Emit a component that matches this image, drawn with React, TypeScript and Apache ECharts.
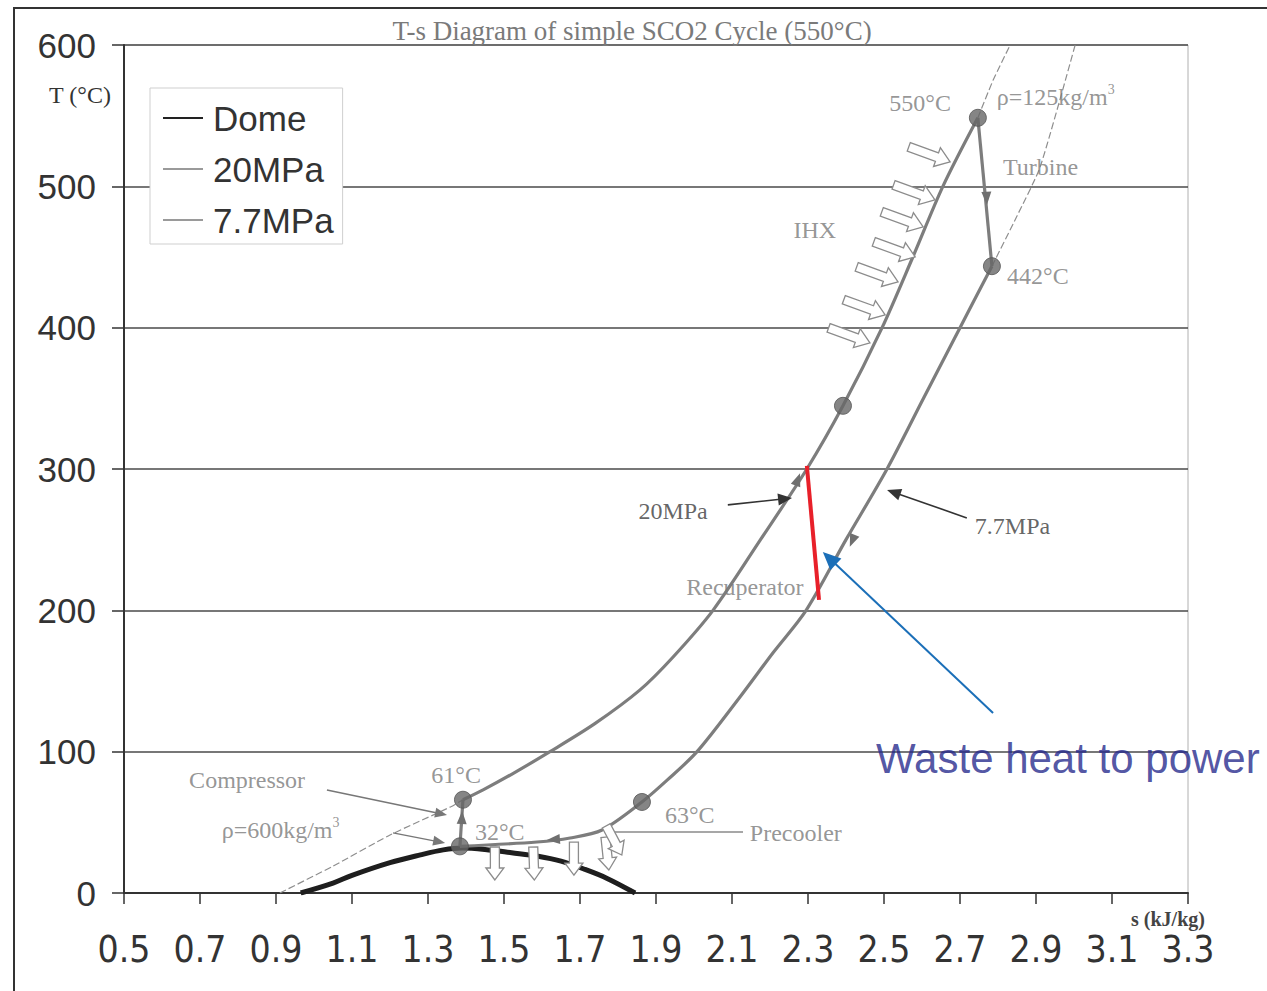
import React, { useEffect, useRef } from "react";
import * as echarts from "echarts";

// ---- data (s in kJ/kg·K, T in °C) ----
const domeData = [
  [0.965, 0], [1.05, 7], [1.1, 12.5], [1.2, 21.5], [1.28, 27], [1.34, 30.5], [1.39, 31.8],
  [1.45, 30.8], [1.52, 28.5], [1.59, 26], [1.65, 22.5], [1.71, 17], [1.77, 10.5], [1.845, 0],
];
const compression = [[1.384, 33], [1.392, 66]];
const heating20 = [
  [1.392, 66], [1.445, 73], [1.52, 84], [1.621, 100], [1.74, 120], [1.858, 143.7], [1.945, 167],
  [2.05, 200], [2.175, 250], [2.297, 300], [2.392, 344.7], [2.495, 400], [2.576, 450],
  [2.655, 500], [2.747, 548.5],
];
const turbine = [[2.747, 548.5], [2.784, 443.5]];
const cooling77 = [
  [2.784, 443.5], [2.7, 400], [2.604, 350], [2.508, 300], [2.4, 250], [2.295, 200], [2.208, 170],
  [2.121, 138.7], [2.008, 100], [1.93, 80], [1.863, 64.4], [1.758, 44.6], [1.674, 38.9],
  [1.587, 36.1], [1.384, 33],
];
const iso20Low = [[0.91, 0], [1.05, 19], [1.2, 41], [1.36, 61], [1.392, 66]];
const iso20High = [[2.747, 548.5], [2.787, 575], [2.832, 600]];
const iso77High = [[2.784, 443.5], [2.85, 479], [2.911, 513.8], [3.003, 600]];
const statePoints = [[1.384, 33], [1.392, 66], [2.392, 344.7], [2.747, 548.5], [2.784, 443.5], [1.863, 64.4]];
const recuperatorLine = [[2.297, 302.2], [2.329, 207.4]];

// hollow heat arrows: [s, T of tip, direction angle (deg, screen)]
const ihxArrows = [
  [2.674, 517.3, 20], [2.634, 490.4, 20], [2.603, 471.3, 20], [2.582, 450.1, 20],
  [2.537, 432.4, 20], [2.503, 409.1, 20], [2.463, 389.2, 20],
];
const precoolerArrows = [
  [1.476, 9.2, 90], [1.58, 9.2, 88], [1.684, 12.7, 90], [1.776, 16.3, 84], [1.81, 26.9, 62],
];
// flow direction heads on the curves: [s1, T1, s2, T2 (tip)]
const flowHeads = [
  [1.388, 45, 1.39, 58], [2.26, 283, 2.279, 297], [2.43, 258, 2.41, 244.9],
  [1.66, 38.5, 1.613, 37.5], [2.765, 520, 2.771, 487],
];
// annotation pointers: [s1, T1, s2, T2]
const grayPointers = [[1.034, 72.9, 1.35, 55.2], [1.208, 42.5, 1.345, 35.4]];
const darkPointers = [[2.089, 274.6, 2.258, 279.5], [2.718, 265.4, 2.508, 285.2]];
const precoolerLine = [[1.779, 43.2], [2.129, 43.2]];
const bluePointer = [[2.787, 127.4, 2.339, 241.3]];

// text annotations: [s, T, text, anchor]
const grayLabels: [number, number, string, string][] = [
  [2.595, 559, "550°C", "c"],
  [2.813, 513.8, "Turbine", "l"],
  [2.318, 469.2, "IHX", "c"],
  [2.824, 436.7, "442°C", "l"],
  [2.134, 216.6, "Recuperator", "c"],
  [0.824, 80, "Compressor", "c"],
  [1.374, 83.5, "61°C", "c"],
  [1.489, 43.2, "32°C", "c"],
  [1.989, 55.2, "63°C", "c"],
  [2.147, 42.5, "Precooler", "l"],
];
const densityLabels: [number, number, string, string][] = [
  [2.797, 563.3, "ρ=125kg/m", "l"],
  [0.757, 44.6, "ρ=600kg/m", "l"],
];
const darkLabels: [number, number, string, string][] = [
  [1.945, 270.3, "20MPa", "c"],
  [2.739, 259.7, "7.7MPa", "l"],
];
const blueLabels: [number, number, string, string][] = [[2.479, 95.5, "Waste heat to power", "l"]];

const title = "T-s Diagram of simple SCO2 Cycle (550°C)";

const SERIF = "'Liberation Serif', 'DejaVu Serif', serif";
const SANS = "'Liberation Sans', Arial, sans-serif";
const NARROW = "'Liberation Sans Narrow', 'DejaVu Sans Condensed', 'Liberation Sans', sans-serif";

function labelSeries(list: [number, number, string, string][], style: any, rich?: any) {
  return {
    type: "scatter",
    symbolSize: 0,
    silent: true,
    z: 20,
    data: list.map((d) => ({
      value: [d[0], d[1]],
      name: d[2],
      label: d[3] === "l" ? { position: "right", distance: 0 } : { position: "inside" },
    })),
    label: {
      show: true,
      formatter: rich ? (p: any) => `{a|${p.name}}{s|3}` : "{b}",
      ...style,
      rich,
    },
  };
}

function pointerRender(opts: { lw: number; hl: number; hw: number; line: boolean }) {
  return (params: any, api: any) => {
    const p1 = api.coord([api.value(0), api.value(1)]);
    const p2 = api.coord([api.value(2), api.value(3)]);
    const color = api.visual("color");
    const dx = p2[0] - p1[0];
    const dy = p2[1] - p1[1];
    const len = Math.sqrt(dx * dx + dy * dy) || 1;
    const ux = dx / len;
    const uy = dy / len;
    const nx = -uy;
    const ny = ux;
    const bx = p2[0] - ux * opts.hl;
    const by = p2[1] - uy * opts.hl;
    const children: any[] = [];
    if (opts.line) {
      children.push({
        type: "line",
        shape: { x1: p1[0], y1: p1[1], x2: bx + ux * 2, y2: by + uy * 2 },
        style: { stroke: color, lineWidth: opts.lw },
      });
    }
    children.push({
      type: "polygon",
      shape: {
        points: [
          [p2[0], p2[1]],
          [bx + nx * opts.hw, by + ny * opts.hw],
          [bx - nx * opts.hw, by - ny * opts.hw],
        ],
      },
      style: { fill: color },
    });
    return { type: "group", children };
  };
}

function hollowArrowRender(L: number, shaft: number, headW: number, headL: number) {
  return (params: any, api: any) => {
    const tip = api.coord([api.value(0), api.value(1)]);
    const a = (api.value(2) * Math.PI) / 180;
    const c = Math.cos(a);
    const s = Math.sin(a);
    const local = [
      [0, 0], [-headL, headW / 2], [-headL, shaft / 2], [-L, shaft / 2],
      [-L, -shaft / 2], [-headL, -shaft / 2], [-headL, -headW / 2],
    ];
    const pts = local.map(([x, y]) => [tip[0] + x * c - y * s, tip[1] + x * s + y * c]);
    return {
      type: "polygon",
      shape: { points: pts },
      style: { fill: "#ffffff", stroke: "#8c8c8c", lineWidth: 1.3 },
    };
  };
}

export default function App() {
  const ref = useRef<HTMLDivElement>(null);
  useEffect(() => {
    if (!ref.current) return;
    const chart = echarts.init(ref.current, undefined, { renderer: "svg" });
    const cycleStyle = { color: "#7d7d7d", width: 3.2 };
    const thinStyle = { color: "#8e8e8e", width: 1.2, type: [7, 3] as any };
    chart.setOption({
      animation: false,
      backgroundColor: "#ffffff",
      title: {
        text: title,
        left: 627,
        textAlign: "center",
        top: 12,
        textStyle: { fontFamily: SERIF, fontSize: 27, fontWeight: "normal", color: "#7a7a7a" },
      },
      grid: {
        left: 124, right: 79, top: 45, bottom: 98,
        show: true, borderColor: "#b0b0b0", borderWidth: 1, backgroundColor: "transparent",
      },
      legend: {
        data: [
          { name: "Dome", icon: "rect", itemStyle: { color: "#222" } },
          { name: "20MPa", icon: "rect", itemStyle: { color: "#9a9a9a" } },
          { name: "7.7MPa", icon: "rect", itemStyle: { color: "#9a9a9a" } },
        ],
        orient: "vertical",
        left: 150,
        top: 88,
        itemWidth: 40,
        itemHeight: 2,
        itemGap: 15,
        padding: [12, 9, 6, 13],
        borderColor: "#cfcfcf",
        borderWidth: 1,
        backgroundColor: "#ffffff",
        selectedMode: false,
        textStyle: { fontFamily: SANS, fontSize: 35, color: "#333", lineHeight: 36, padding: [0, 0, 0, 5] },
      },
      xAxis: {
        type: "value",
        min: 0.5,
        max: 3.3,
        interval: 0.2,
        axisLine: { show: true, onZero: false, lineStyle: { color: "#333", width: 2 } },
        axisTick: { show: true, length: 11, lineStyle: { color: "#333", width: 1.5 } },
        axisLabel: {
          margin: 38,
          fontFamily: NARROW,
          fontSize: 37,
          color: "#333",
          formatter: (v: number) => v.toFixed(1),
        },
        splitLine: { show: false },
      },
      yAxis: {
        type: "value",
        min: 0,
        max: 600,
        interval: 100,
        axisLine: { show: true, lineStyle: { color: "#333", width: 2 } },
        axisTick: { show: true, length: 12, lineStyle: { color: "#333", width: 1.5 } },
        axisLabel: { margin: 28, fontFamily: SANS, fontSize: 35, color: "#333" },
        splitLine: { show: true, lineStyle: { color: "#4a4a4a", width: 1.6 } },
      },
      graphic: [
        {
          type: "rect",
          shape: { x: 14, y: 8, width: 1270, height: 1000 },
          style: { fill: "none", stroke: "#333", lineWidth: 2 },
          silent: true,
          z: -10,
        },
        {
          type: "text",
          x: 80,
          y: 95,
          style: { text: "T (°C)", fontFamily: SERIF, fontSize: 24, fill: "#333", align: "center", verticalAlign: "middle" },
        },
        {
          type: "text",
          x: 1168,
          y: 919,
          style: {
            text: "s (kJ/kg)", fontFamily: SERIF, fontSize: 20, fontWeight: "bold", fill: "#444",
            align: "center", verticalAlign: "middle",
          },
        },
      ],
      series: [
        { name: "Dome", type: "line", data: domeData, smooth: 0.35, symbol: "none", lineStyle: { color: "#1e1e1e", width: 5 }, z: 5 },
        { name: "20MPa", type: "line", data: iso20Low, smooth: 0.2, symbol: "none", lineStyle: thinStyle, z: 4 },
        { name: "20MPa", type: "line", data: iso20High, smooth: 0.2, symbol: "none", lineStyle: thinStyle, z: 4 },
        { name: "20MPa", type: "line", data: heating20, smooth: 0.3, symbol: "none", lineStyle: cycleStyle, z: 6 },
        { name: "7.7MPa", type: "line", data: iso77High, smooth: 0.2, symbol: "none", lineStyle: thinStyle, z: 4 },
        { name: "7.7MPa", type: "line", data: cooling77, smooth: 0.3, symbol: "none", lineStyle: cycleStyle, z: 6 },
        { name: "compression", type: "line", data: compression, symbol: "none", lineStyle: cycleStyle, z: 6 },
        { name: "turbine", type: "line", data: turbine, symbol: "none", lineStyle: cycleStyle, z: 6 },
        { name: "recuperator", type: "line", data: recuperatorLine, symbol: "none", lineStyle: { color: "#e8202a", width: 4 }, z: 12 },
        { name: "precoolerLine", type: "line", data: precoolerLine, symbol: "none", lineStyle: { color: "#8a8a8a", width: 1.4 }, z: 7 },
        {
          name: "states", type: "scatter", data: statePoints, symbolSize: 17,
          itemStyle: { color: "#676767", borderColor: "#555", borderWidth: 1 }, z: 10,
        },
        {
          name: "ihx", type: "custom", data: ihxArrows, renderItem: hollowArrowRender(44, 9, 20, 14), z: 8,
          encode: { x: 0, y: 1 },
        },
        {
          name: "precooler", type: "custom", data: precoolerArrows, renderItem: hollowArrowRender(33, 9, 18, 12), z: 8,
          encode: { x: 0, y: 1 },
        },
        {
          name: "heads", type: "custom", data: flowHeads, itemStyle: { color: "#6f6f6f" },
          renderItem: pointerRender({ lw: 1, hl: 13, hw: 5, line: false }), z: 9, encode: { x: 0, y: 1 },
        },
        {
          name: "grayPointers", type: "custom", data: grayPointers, itemStyle: { color: "#777" },
          renderItem: pointerRender({ lw: 1.4, hl: 12, hw: 5, line: true }), z: 9, encode: { x: 0, y: 1 },
        },
        {
          name: "darkPointers", type: "custom", data: darkPointers, itemStyle: { color: "#333" },
          renderItem: pointerRender({ lw: 1.6, hl: 14, hw: 6, line: true }), z: 9, encode: { x: 0, y: 1 },
        },
        {
          name: "bluePointer", type: "custom", data: bluePointer, itemStyle: { color: "#1b6fb8" },
          renderItem: pointerRender({ lw: 2, hl: 18, hw: 8, line: true }), z: 12, encode: { x: 0, y: 1 },
        },
        labelSeries(grayLabels, { fontFamily: SERIF, fontSize: 24, color: "#7a7a7a" }),
        labelSeries(
          densityLabels,
          {},
          {
            a: { fontFamily: SERIF, fontSize: 24, color: "#7a7a7a" },
            s: { fontFamily: SERIF, fontSize: 14, color: "#7a7a7a", padding: [0, 0, 14, 0] },
          }
        ),
        labelSeries(darkLabels, { fontFamily: SERIF, fontSize: 24, color: "#3d3d3d" }),
        labelSeries(blueLabels, { fontFamily: SANS, fontSize: 42, color: "#262a8c" }),
      ],
    });
    return () => chart.dispose();
  }, []);
  return <div ref={ref} style={{ position: "fixed", left: 0, top: 0, width: 1267, height: 991 }} />;
}
